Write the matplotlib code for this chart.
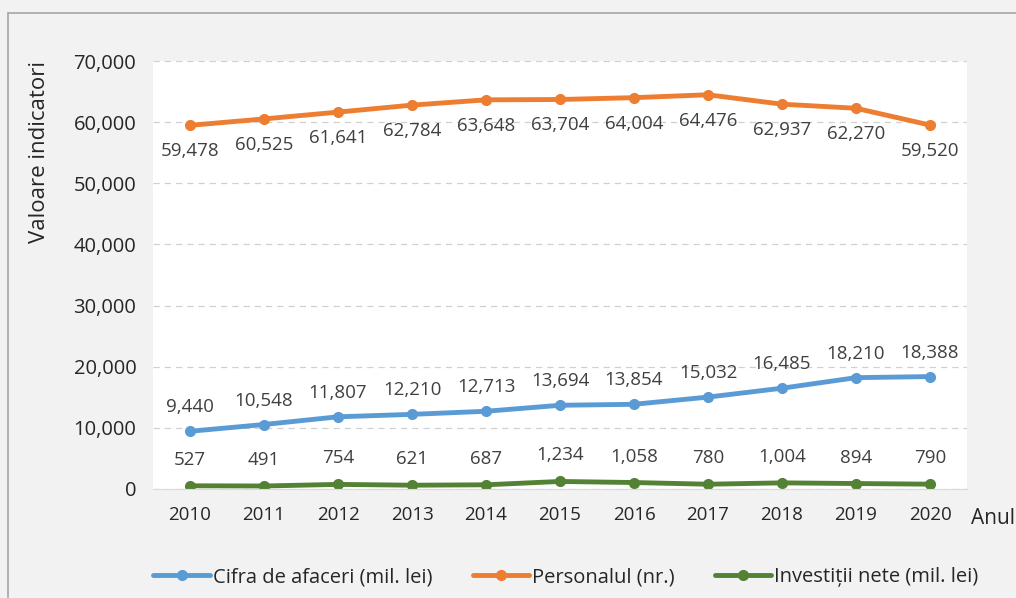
import matplotlib
matplotlib.use("Agg")
import matplotlib.pyplot as plt
from matplotlib.patches import Rectangle

plt.rcParams['font.family'] = ['Open Sans', 'DejaVu Sans']

years = [2010, 2011, 2012, 2013, 2014, 2015, 2016, 2017, 2018, 2019, 2020]
cifra = [9440, 10548, 11807, 12210, 12713, 13694, 13854, 15032, 16485, 18210, 18388]
personal = [59478, 60525, 61641, 62784, 63648, 63704, 64004, 64476, 62937, 62270, 59520]
investitii = [527, 491, 754, 621, 687, 1234, 1058, 780, 1004, 894, 790]
series_names = ["Cifra de afaceri (mil. lei)", "Personalul (nr.)", "Investiții nete (mil. lei)"]
yticks = [0, 10000, 20000, 30000, 40000, 50000, 60000, 70000]

c_blue = "#5B9BD5"
c_orange = "#ED7D31"
c_green = "#548235"
txt = "#404040"

fig = plt.figure(figsize=(10.16, 5.98), dpi=100)
fig.patch.set_facecolor("#f2f2f2")
# outer frame
fig.patches.append(Rectangle((8/1016, -0.1), 1.2, 1 - 13/598 + 0.1, transform=fig.transFigure,
                             fill=False, edgecolor="#a6a6a6", linewidth=1.2))

ax = fig.add_axes([153/1016, 1 - 489/598, (967 - 153)/1016, (489 - 61)/598])
ax.set_facecolor("white")
x = list(range(len(years)))

ax.plot(x, cifra, color=c_blue, lw=3.5, marker="o", ms=7, label=series_names[0], solid_capstyle="round")
ax.plot(x, personal, color=c_orange, lw=3.5, marker="o", ms=7, label=series_names[1], solid_capstyle="round")
ax.plot(x, investitii, color=c_green, lw=3.5, marker="o", ms=7, label=series_names[2], solid_capstyle="round")

fs = 13.5
for i in x:
    ax.annotate(f"{cifra[i]:,}", (i, cifra[i]), xytext=(0, 24), textcoords="offset pixels",
                ha="center", va="center", fontsize=fs, color=txt)
    ax.annotate(f"{personal[i]:,}", (i, personal[i]), xytext=(0, -26), textcoords="offset pixels",
                ha="center", va="center", fontsize=fs, color=txt)
    ax.annotate(f"{investitii[i]:,}", (i, investitii[i]), xytext=(0, 26), textcoords="offset pixels",
                ha="center", va="center", fontsize=fs, color=txt)

ax.set_xlim(-0.5, len(years) - 0.5)
ax.set_ylim(0, 70000)
ax.set_yticks(yticks)
ax.set_yticklabels([f"{v:,}" for v in yticks], fontsize=14.5, color="#262626")
ax.set_xticks(x)
ax.set_xticklabels([str(y) for y in years], fontsize=13.5, color="#262626")
ax.tick_params(axis="y", length=0, pad=12)
ax.tick_params(axis="x", length=0, pad=12)
ax.grid(axis="y", color="#d0d0d0", linestyle=(0, (5, 4)), linewidth=0.9)
ax.set_axisbelow(True)
for s in ["top", "right", "left"]:
    ax.spines[s].set_visible(False)
ax.spines["bottom"].set_color("#d9d9d9")

fig.text(40/1016, 1 - 152/598, "Valoare indicatori", rotation=90, ha="center", va="center",
         fontsize=16, color="#262626")
fig.text(971/1016, 1 - 519/598, "Anul", ha="left", va="center", fontsize=15, color="#262626")

leg = fig.legend(loc="center", bbox_to_anchor=(566/1016, 1 - 577/598), ncol=3, frameon=False,
                 fontsize=14.5, handlelength=2.8, columnspacing=2.0, handletextpad=0.15)
for t in leg.get_texts():
    t.set_color("#262626")

fig.savefig("out.png", dpi=100, facecolor=fig.get_facecolor())
